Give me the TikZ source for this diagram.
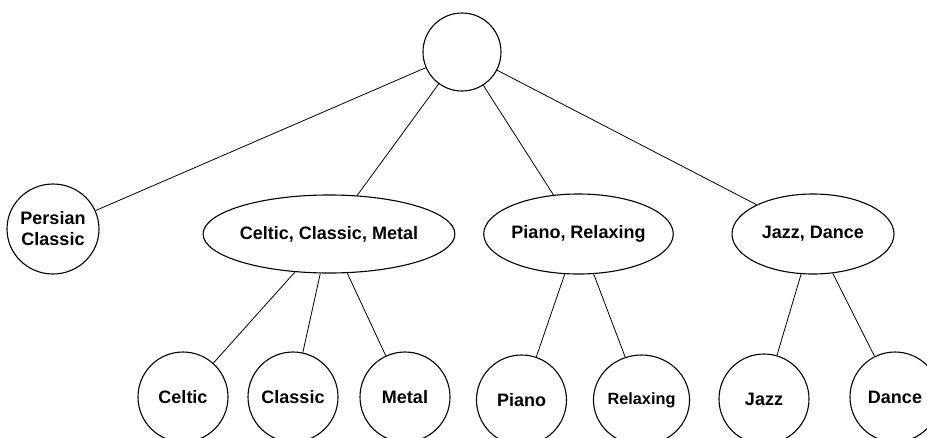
\documentclass[tikz,border=0pt]{standalone}
\usepackage{fontspec}
\setmainfont{Liberation Sans}
\usetikzlibrary{shapes.geometric}
\begin{document}
\begin{tikzpicture}[x=1pt,y=-1pt,
  nd/.style={draw=black, line width=1.1pt, ellipse, inner sep=0pt, align=center,
    font=\fontsize{18}{21}\selectfont\bfseries},
  circ/.style={nd, minimum width=90pt, minimum height=90pt},
  edge/.style={draw=black, line width=0.8pt}]
\useasboundingbox (0,0) rectangle (927,437);
\node[nd, minimum width=78pt, minimum height=78pt] (root) at (462,52) {};
\node[circ] (persian) at (53,229) {Persian\\Classic};
\node[nd, minimum width=204pt, minimum height=78pt] (ccm) at (329,234) {Celtic, Classic, Metal};
\node[nd, minimum width=183pt, minimum height=80pt] (pr) at (578.5,234) {Piano, Relaxing};
\node[nd, minimum width=162pt, minimum height=80pt] (jd) at (813,234) {Jazz, Dance};
\node[circ] (celtic) at (183,397) {Celtic};
\node[circ] (classic) at (293,397) {Classic};
\node[circ] (metal) at (405,397) {Metal};
\node[circ] (piano) at (521.5,400) {Piano};
\node[circ, font=\fontsize{16.3}{19}\selectfont\bfseries] (relax) at (641.5,400) {Relaxing};
\node[circ] (jazz) at (764,399) {Jazz};
\node[circ] (dance) at (895,397) {Dance};
\draw[edge] (root) -- (persian);
\draw[edge] (root) -- (ccm);
\draw[edge] (root) -- (pr);
\draw[edge] (root) -- (jd);
\draw[edge] (ccm) -- (celtic);
\draw[edge] (ccm) -- (classic);
\draw[edge] (ccm) -- (metal);
\draw[edge] (pr) -- (piano);
\draw[edge] (pr) -- (relax);
\draw[edge] (jd) -- (jazz);
\draw[edge] (jd) -- (dance);
\end{tikzpicture}
\end{document}
